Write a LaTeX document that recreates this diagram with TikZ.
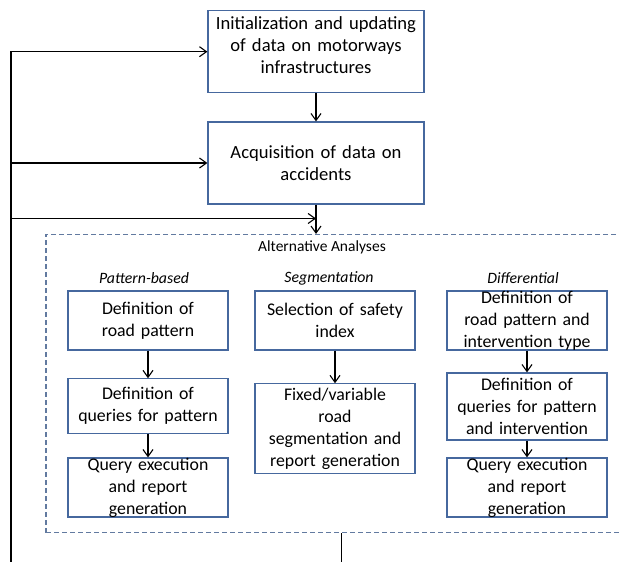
\documentclass[tikz,border=0pt]{standalone}
\usepackage{fontspec}
\setmainfont{Carlito}
\usetikzlibrary{arrows.meta}
\definecolor{boxblue}{RGB}{70,104,158}
\definecolor{dashblue}{RGB}{98,122,160}
\begin{document}
\begin{tikzpicture}[x=1pt, y=-1pt,
  every node/.style={font=\fontsize{17.8}{22}\selectfont},
  box/.style={draw=boxblue, line width=1.2pt, align=center, inner xsep=0pt, inner ysep=-4pt},
  bigbox/.style={box, font=\fontsize{18.6}{21.8}\selectfont, minimum width=216pt, minimum height=82pt, text width=212pt},
  subbox/.style={box, minimum width=160pt, text width=158pt},
  head/.style={font=\fontsize{15.5}{18}\selectfont},
  colhead/.style={font=\fontsize{15.8}{18}\selectfont\itshape},
  flow/.style={line width=1.1pt, -{Straight Barb[length=7pt,width=10pt]}},
  plain/.style={line width=1.1pt}]
\useasboundingbox (0,0) rectangle (619,562);
\clip (0,0) rectangle (619,562);
% main steps
\node[bigbox, text depth=57pt] (init) at (316,51.7) {Initialization and updating\\of data on motorways\\infrastructures};
\node[bigbox] (acq) at (316,163) {Acquisition of data on\\accidents};
\draw[flow] (init) -- (acq);
% alternative analyses frame
\node[draw=dashblue, line width=1.1pt, dash pattern=on 5pt off 3pt, minimum width=604pt, minimum height=298.2pt, inner sep=0pt] (alt) at (348,383.6) {};
\node[head] (althead) at (322,247) {Alternative Analyses};
\node[colhead] (pathead) at (144,278) {Pattern-based};
\node[colhead] (seghead) at (329,278) {Segmentation};
\node[colhead] (difhead) at (523,278) {Differential};
\draw[flow] (acq.south) -- (acq.south |- alt.north);
% pattern-based
\node[subbox, minimum height=59pt] (pat1) at (148,320.5) {Definition of\\road pattern};
\node[subbox, minimum height=54.3pt] (pat2) at (148,406) {Definition of\\queries for pattern};
\node[subbox, minimum height=59pt] (pat3) at (148,487.5) {Query execution\\and report\\generation};
\draw[flow] (pat1) -- (pat2);
\draw[flow] (pat2) -- (pat3);
% segmentation
\node[subbox, minimum height=59pt] (seg1) at (335,320.5) {Selection of safety\\index};
\node[subbox, minimum height=89.3pt] (seg2) at (335,428.5) {Fixed/variable\\road\\segmentation and\\report generation};
\draw[flow] (seg1) -- (seg2);
% differential
\node[subbox, minimum height=59pt] (dif1) at (527,320.5) {Definition of\\road pattern and\\intervention type};
\node[subbox, minimum height=67pt] (dif2) at (527,406.5) {Definition of\\queries for pattern\\and intervention};
\node[subbox, minimum height=59pt] (dif3) at (527,487.5) {Query execution\\and report\\generation};
\draw[flow] (dif1) -- (dif2);
\draw[flow] (dif2) -- (dif3);
% feedback loop
\coordinate (loopbot) at (11,562);
\coordinate (outbot) at (341.7,562);
\coordinate (split) at (316,218.5);
\draw[plain] (alt.south -| outbot) -- (outbot);
\draw[flow] (loopbot) |- (init.west);
\draw[flow] (loopbot |- acq.west) -- (acq.west);
\draw[flow] (loopbot |- split) -- (split);
\end{tikzpicture}
\end{document}
